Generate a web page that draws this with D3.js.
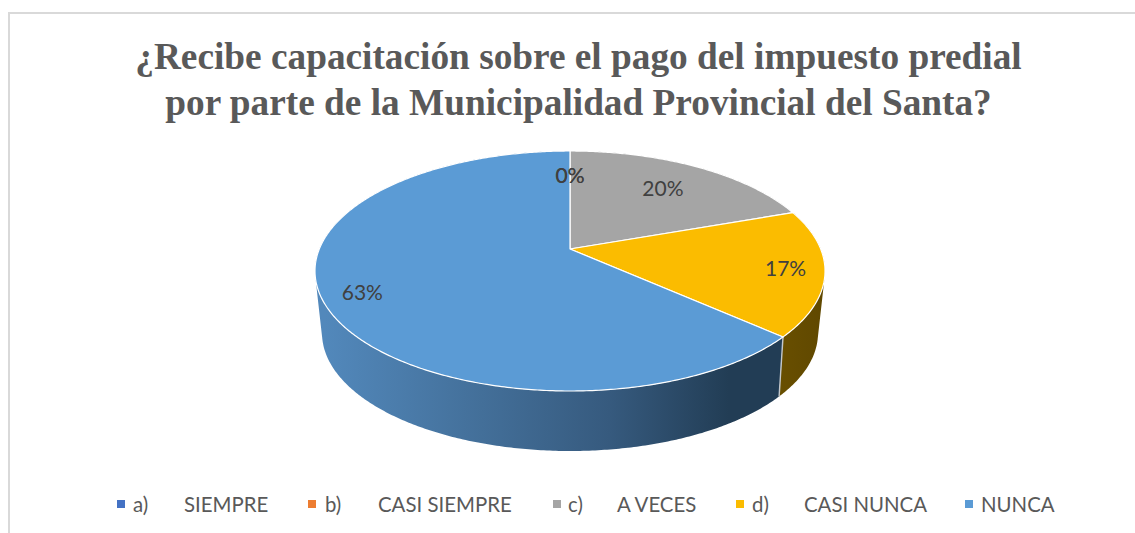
<!DOCTYPE html>
<html><head><meta charset="utf-8">
<script src="https://cdn.jsdelivr.net/npm/d3@7"></script>
<style>html,body{margin:0;padding:0;background:#fff}svg{display:block}</style></head>
<body><svg id="c" width="1135" height="533"></svg>
<script>
const categories = ["a)     SIEMPRE","b)     CASI SIEMPRE","c)     A VECES","d)     CASI NUNCA","NUNCA"];
const values = [0,0,19.6,17,63.4];
const percentLabels = ["0%","0%","20%","17%","63%"];
const titleLines = ["¿Recibe capacitación sobre el pago del impuesto predial","por parte de la Municipalidad Provincial del Santa?"];
const colors = ["#4472C4","#ED7D31","#A5A5A5","#FBBC00","#5B9BD5"];
const labelReach = [.72,.72,.71,.85,.85];

const svg = d3.select("#c");
const W=1135,H=533;
const CX=570;
const top3d={cy:271,rx:255,ry:120,c:-0.1833};
const bot3d={cy:333,rx:248,ry:118,c:-0.2};
function proj(g,u,v){
  const den=1+g.c*v;
  const k=g.rx*Math.sqrt(1-g.c*g.c);
  return [CX+k*u/den, g.cy+g.ry*(v+g.c)/den];
}
const rim=(g,a,t=1)=>proj(g,t*Math.sin(a),-t*Math.cos(a));
const samples=(a0,a1)=>{const n=Math.max(2,Math.ceil((a1-a0)/0.01));return d3.range(n+1).map(i=>a0+(a1-a0)*i/n);};

// frame
svg.append("path").attr("d",d3.line()([[W,13],[9,13],[9,H]])).attr("fill","none").attr("stroke","#d9d9d9").attr("stroke-width",2);

// title
svg.append("g").selectAll("text").data(titleLines).join("text")
 .attr("x",578.5).attr("y",(d,i)=>69+i*46).attr("text-anchor","middle")
 .attr("font-family","'Liberation Serif',serif").attr("font-weight","bold").attr("font-size",37.3)
 .attr("fill","#595959").text(d=>d);

const arcs=d3.pie().sort(null).value(d=>d)(values);

// gradients
const defs=svg.append("defs");
const gradStops=[
 [["0","#5288BB"],["0.33","#436f99"],["0.6","#365a7e"],["0.85","#223D55"],["1","#223D55"]],
 [["0","#6a5000"],["1","#604800"]]
];
[["wallBlue",325,800,gradStops[0]],["wallGold",770,825,gradStops[1]]].forEach(([id,x1,x2,st])=>{
  const g=defs.append("linearGradient").attr("id",id).attr("gradientUnits","userSpaceOnUse")
   .attr("x1",x1).attr("x2",x2).attr("y1",0).attr("y2",0);
  st.forEach(s=>g.append("stop").attr("offset",s[0]).attr("stop-color",s[1]));
});

function wallPath(a0,a1){
  const as=samples(a0,a1);let d="";
  for(let i=0;i<as.length-1;i++){
    let q=[rim(top3d,as[i]),rim(top3d,as[i+1]),rim(bot3d,as[i+1]),rim(bot3d,as[i])];
    if(d3.polygonArea(q)<0)q.reverse();
    d+="M"+q.map(p=>p[0].toFixed(2)+","+p[1].toFixed(2)).join("L")+"Z";
  }
  return d;
}
const wallFill={3:"url(#wallGold)",4:"url(#wallBlue)",2:"#626262"};
const walls=svg.append("g");
arcs.forEach((a,i)=>{
  if(a.endAngle-a.startAngle<1e-6||!wallFill[i])return;
  walls.append("path").attr("d",wallPath(a.startAngle,a.endAngle)).attr("fill",wallFill[i]).attr("stroke","none");
});
// the shared edge between the two visible walls
const edge=arcs[4].startAngle;
walls.append("path").attr("d",d3.line()([rim(top3d,edge),rim(bot3d,edge)])).attr("stroke","#c4c8cc").attr("stroke-width",1.4).attr("fill","none");

// top faces
const apex=proj(top3d,0,0);
svg.append("g").selectAll("path").data(arcs.filter(a=>a.endAngle>a.startAngle)).join("path")
 .attr("d",a=>d3.line()([apex,...samples(a.startAngle,a.endAngle).map(t=>rim(top3d,t))])+"Z")
 .attr("fill",a=>colors[a.index]).attr("stroke","#fff").attr("stroke-width",1.2).attr("stroke-linejoin","round");

// data labels
svg.append("g").selectAll("text").data(arcs).join("text")
 .attr("transform",a=>{const m=(a.startAngle+a.endAngle)/2;const p=rim(top3d,m,labelReach[a.index]);return `translate(${p[0]},${p[1]})`;})
 .attr("text-anchor","middle").attr("dy","0.36em")
 .attr("font-family","Lato,'Open Sans',sans-serif").attr("font-size",21).attr("fill","#404040")
 .text(a=>percentLabels[a.index]);

// legend
const legendX=[117,308,553,736,965];
const parts=categories.map(c=>{const m=c.match(/^(\S+\))\s+(.*)$/);return m?[m[1],m[2]]:[null,c];});
const textX=[[133,184],[325,378],[568,617],[752,804],[null,981]];
const lg=svg.append("g").attr("font-family","Lato,'Open Sans',sans-serif").attr("font-size",20.4).attr("fill","#595959");
categories.forEach((c,i)=>{
  lg.append("rect").attr("x",legendX[i]).attr("y",500).attr("width",8).attr("height",8).attr("fill",colors[i]);
  if(parts[i][0])lg.append("text").attr("x",textX[i][0]).attr("y",512).text(parts[i][0]);
  lg.append("text").attr("x",textX[i][1]).attr("y",512).text(parts[i][1]);
});
</script></body></html>
